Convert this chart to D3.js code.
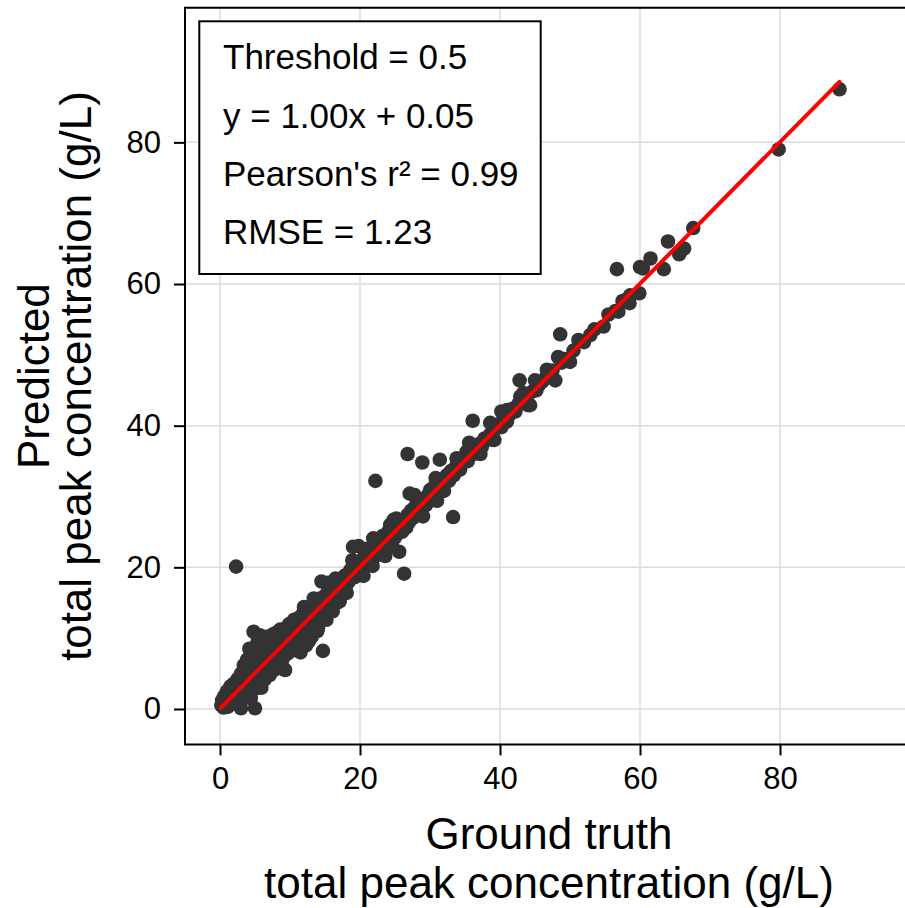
<!DOCTYPE html>
<html>
<head>
<meta charset="utf-8">
<script src="https://cdn.jsdelivr.net/npm/d3@7"></script>
<style>
html,body{margin:0;padding:0;background:#fff;}
text{font-family:"Liberation Sans",Arial,sans-serif;}
</style>
</head>
<body>
<svg id="chart" width="905" height="908"></svg>
<script>
// ---- data ----
const truth = [
0.2,0.3,0.5,0.6,0.8,1.0,1.1,1.3,1.5,1.6,1.8,2.0,2.1,2.3,2.5,2.6,2.8,3.0,3.0,3.1,3.3,3.4,3.5,3.6,3.8,3.9,4.0,4.1,4.2,4.3,4.4,4.5,4.6,4.7,4.8,4.9,5.0,5.0,5.1,5.2,5.3,5.4,5.5,5.6,5.7,5.8,5.9,6.0,6.1,6.2,6.3,6.4,6.5,6.6,6.7,6.8,6.9,7.0,7.1,7.2,7.3,7.4,7.5,7.6,7.7,7.8,7.9,8.0,8.1,8.2,8.3,8.4,8.5,8.6,8.7,8.8,8.9,9.0,9.1,9.2,9.3,9.4,9.5,9.6,9.7,9.8,9.9,10.0,10.0,10.2,
10.3,10.5,10.6,10.8,11.0,11.1,11.3,11.4,11.6,11.8,11.9,12.1,12.2,12.4,12.5,12.7,12.9,13.0,13.2,13.3,13.5,13.6,13.8,14.0,14.1,14.3,14.5,14.5,14.7,14.8,15.0,15.1,15.3,15.5,15.6,15.8,16.0,16.2,16.4,16.6,16.8,17.0,17.2,17.4,17.6,17.8,18.0,18.2,18.4,18.6,18.8,19.0,19.0,19.2,19.4,19.6,19.8,20.0,20.2,
20.4,20.6,20.8,21.0,21.2,21.4,21.6,21.9,22.0,22.2,22.3,22.5,22.8,23.0,23.2,23.5,23.8,24.0,24.2,24.5,24.8,25.0,25.2,25.4,25.6,25.8,26.0,26.3,26.3,26.6,26.8,26.8,27.1,27.0,27.3,27.6,27.9,28.1,28.2,28.5,28.9,28.8,29.1,29.4,29.7,30.0,30.0,30.3,30.6,30.9,31.2,31.4,31.5,31.8,32.1,32.4,32.7,32.9,33.0,33.3,33.4,33.7,34.0,34.3,34.6,35.0,35.2,35.4,35.8,36.1,
36.2,36.6,37.0,37.4,37.8,38.2,38.6,39.0,39.4,39.8,40.2,40.6,41.0,41.0,41.4,41.8,42.2,42.8,42.9,42.6,43.0,43.3,43.6,44.0,44.3,44.6,45.0,45.2,45.6,46.0,46.4,46.7,47.0,47.5,47.9,48.3,48.6,48.8,49.2,50.0,50.5,51.2,52.0,52.9,53.5,54.8,55.5,56.5,56.9,57.5,57.9,58.5,58.6,59.9,
56.7,60.4,60.0,61.5,63.4,64.0,65.6,66.3,67.6,79.8,88.5,2.3,
11.5,12.3,13.1,13.9,15.2,16.1,17.1,18.1,12.0,13.4,16.5,15.4,18.9,20.5,21.8,23.6,24.6,29.0,31.0,32.0,37.2,39.2,24.3,27.8,30.8,33.8,35.6,38.6,40.2
];
const predicted = [
0.5,1.2,0.2,1.8,0.9,2.5,0.3,1.5,3.2,0.8,2.2,3.6,1.2,2.8,4.2,1.5,3.3,0.1,5.0,2.2,3.9,6.2,1.8,4.6,2.9,7.0,5.3,3.3,8.5,6.0,1.5,4.2,7.4,5.0,10.9,2.8,0.1,6.4,8.8,3.8,5.5,9.6,7.2,4.5,10.4,6.3,3.0,8.0,5.2,9.2,6.8,4.2,10.2,7.6,5.6,8.6,6.2,9.8,4.8,7.2,8.9,6.0,10.5,7.8,5.5,9.2,6.8,8.2,10.8,7.0,5.8,9.0,7.6,11.2,8.4,6.4,9.6,7.2,10.0,8.8,5.5,11.4,9.2,7.8,10.4,8.5,12.0,10.7,9.4,8.2,
11.8,9.0,12.6,10.2,8.4,11.6,12.9,9.8,11.0,13.4,8.9,12.2,10.6,13.8,11.5,9.6,13.0,12.2,14.5,10.8,13.6,12.0,14.8,11.4,13.8,15.6,18.0,12.8,8.2,14.6,16.0,13.5,15.2,17.0,14.2,16.2,15.0,17.2,16.0,14.9,17.6,16.8,18.0,16.3,17.9,18.8,17.4,19.0,18.0,19.6,18.5,22.9,19.8,18.6,20.2,19.2,23.0,20.4,19.5,
21.2,20.0,21.8,22.6,22.2,20.8,22.0,24.1,21.4,32.2,22.8,23.6,21.9,23.4,24.4,22.8,24.0,25.0,23.6,24.8,26.7,24.2,26.9,25.4,22.2,26.2,25.0,19.1,26.6,25.6,36.0,27.4,30.4,26.4,28.0,27.0,28.6,28.6,27.6,29.0,34.8,28.2,29.6,28.8,30.2,30.9,29.4,30.8,31.4,30.4,31.6,35.2,32.2,31.2,32.6,33.0,32.2,33.3,33.6,27.1,33.0,34.2,34.6,33.8,35.0,35.4,36.3,35.0,36.2,40.7,
36.0,36.8,37.4,37.0,38.2,38.0,38.8,38.0,39.6,40.2,39.8,41.0,42.2,40.6,41.6,42.4,42.0,46.4,44.1,43.0,43.2,44.6,43.6,42.9,42.9,44.8,46.4,45.0,45.8,46.2,46.6,47.9,47.2,47.8,46.4,49.7,52.9,48.9,49.4,49.0,50.6,52.1,51.8,52.8,53.6,54.0,55.7,56.2,56.1,57.6,57.7,57.3,58.4,58.7,
62.1,62.2,62.4,63.6,62.1,66.0,64.2,65.0,67.9,79.0,87.5,20.1,
8.0,9.0,10.2,11.0,12.6,13.8,15.2,16.4,14.4,15.6,18.4,17.8,21.0,18.8,20.2,21.6,23.0,27.2,29.4,30.8,36.0,38.0,26.0,30.2,32.6,35.4,37.6,40.4,42.0
];
const fitSlope = 1.00, fitIntercept = 0.05;
const fitRange = [0.15, 88.5];
const xTicks = [0, 20, 40, 60, 80];
const yTicks = [0, 20, 40, 60, 80];
const legendLines = ["Threshold = 0.5", "y = 1.00x + 0.05", "Pearson's r\u00b2 = 0.99", "RMSE = 1.23"];
const xTitle = ["Ground truth", "total peak concentration (g/L)"];
const yTitle = ["Predicted", "total peak concentration (g/L)"];

// ---- layout ----
const svg = d3.select("#chart");
const L = 185, R = 913, T = 7.8, B = 744.4;
const x = d3.scaleLinear().domain([-5, 99]).range([L, R]);
const y = d3.scaleLinear().domain([-5, 99]).range([B, T]);

svg.append("rect").attr("width", 905).attr("height", 908).attr("fill", "#fff");

// grid
const grid = svg.append("g").attr("stroke", "#dcdcdc").attr("stroke-width", 1.5);
grid.selectAll("line.gx").data(xTicks).join("line")
  .attr("x1", d => x(d)).attr("x2", d => x(d)).attr("y1", T).attr("y2", B);
grid.selectAll("line.gy").data(yTicks).join("line")
  .attr("y1", d => y(d)).attr("y2", d => y(d)).attr("x1", L).attr("x2", R);

// points
const pts = truth.map((t, i) => ({t, p: predicted[i]}));
svg.append("g").selectAll("circle").data(pts).join("circle")
  .attr("cx", d => x(d.t)).attr("cy", d => y(d.p)).attr("r", 7.3)
  .attr("fill", "#333333");

// fit line
svg.append("line")
  .attr("x1", x(fitRange[0])).attr("y1", y(fitSlope * fitRange[0] + fitIntercept))
  .attr("x2", x(fitRange[1])).attr("y2", y(fitSlope * fitRange[1] + fitIntercept))
  .attr("stroke", "#ff0000").attr("stroke-width", 4).attr("stroke-linecap", "round");

// axes
const xAxis = svg.append("g").attr("transform", `translate(0,${B})`)
  .call(d3.axisBottom(x).tickValues(xTicks).tickSize(11).tickPadding(12));
const yAxis = svg.append("g").attr("transform", `translate(${L},0)`)
  .call(d3.axisLeft(y).tickValues(yTicks).tickSize(11).tickPadding(13));
[xAxis, yAxis].forEach(g => {
  g.select(".domain").remove();
  g.selectAll(".tick line").attr("stroke", "#000").attr("stroke-width", 2);
  g.selectAll(".tick text").attr("fill", "#000").style("font-size", "31px")
    .style("font-family", '"Liberation Sans", Arial, sans-serif');
});

// frame
const frame = svg.append("g").attr("stroke", "#000").attr("stroke-width", 2).attr("fill", "none");
frame.append("path").attr("d", `M${R},${T}H${L}V${B}H${R}`);

// legend
svg.append("rect").attr("x", 199.3).attr("y", 21.3).attr("width", 341.4).attr("height", 252.7)
  .attr("fill", "#fff").attr("stroke", "#000").attr("stroke-width", 2);
svg.append("g").selectAll("text").data(legendLines).join("text")
  .attr("x", 223).attr("y", (d, i) => 69.3 + i * 58.3)
  .style("font-size", "35px").attr("fill", "#000").text(d => d);

// axis titles (one text element per title, two lines as tspans)
const xt = svg.append("text").attr("text-anchor", "middle").style("font-size", "44px").attr("fill", "#000");
xt.selectAll("tspan").data(xTitle).join("tspan")
  .attr("x", (L + R) / 2).attr("y", (d, i) => 849 + i * 49).text(d => d);
const yt = svg.append("text").attr("text-anchor", "middle").style("font-size", "44px").attr("fill", "#000")
  .attr("transform", `translate(0,${(T + B) / 2}) rotate(-90)`);
yt.selectAll("tspan").data(yTitle).join("tspan")
  .attr("x", 0).attr("y", (d, i) => 49 + i * 42).text(d => d);
</script>
</body>
</html>
